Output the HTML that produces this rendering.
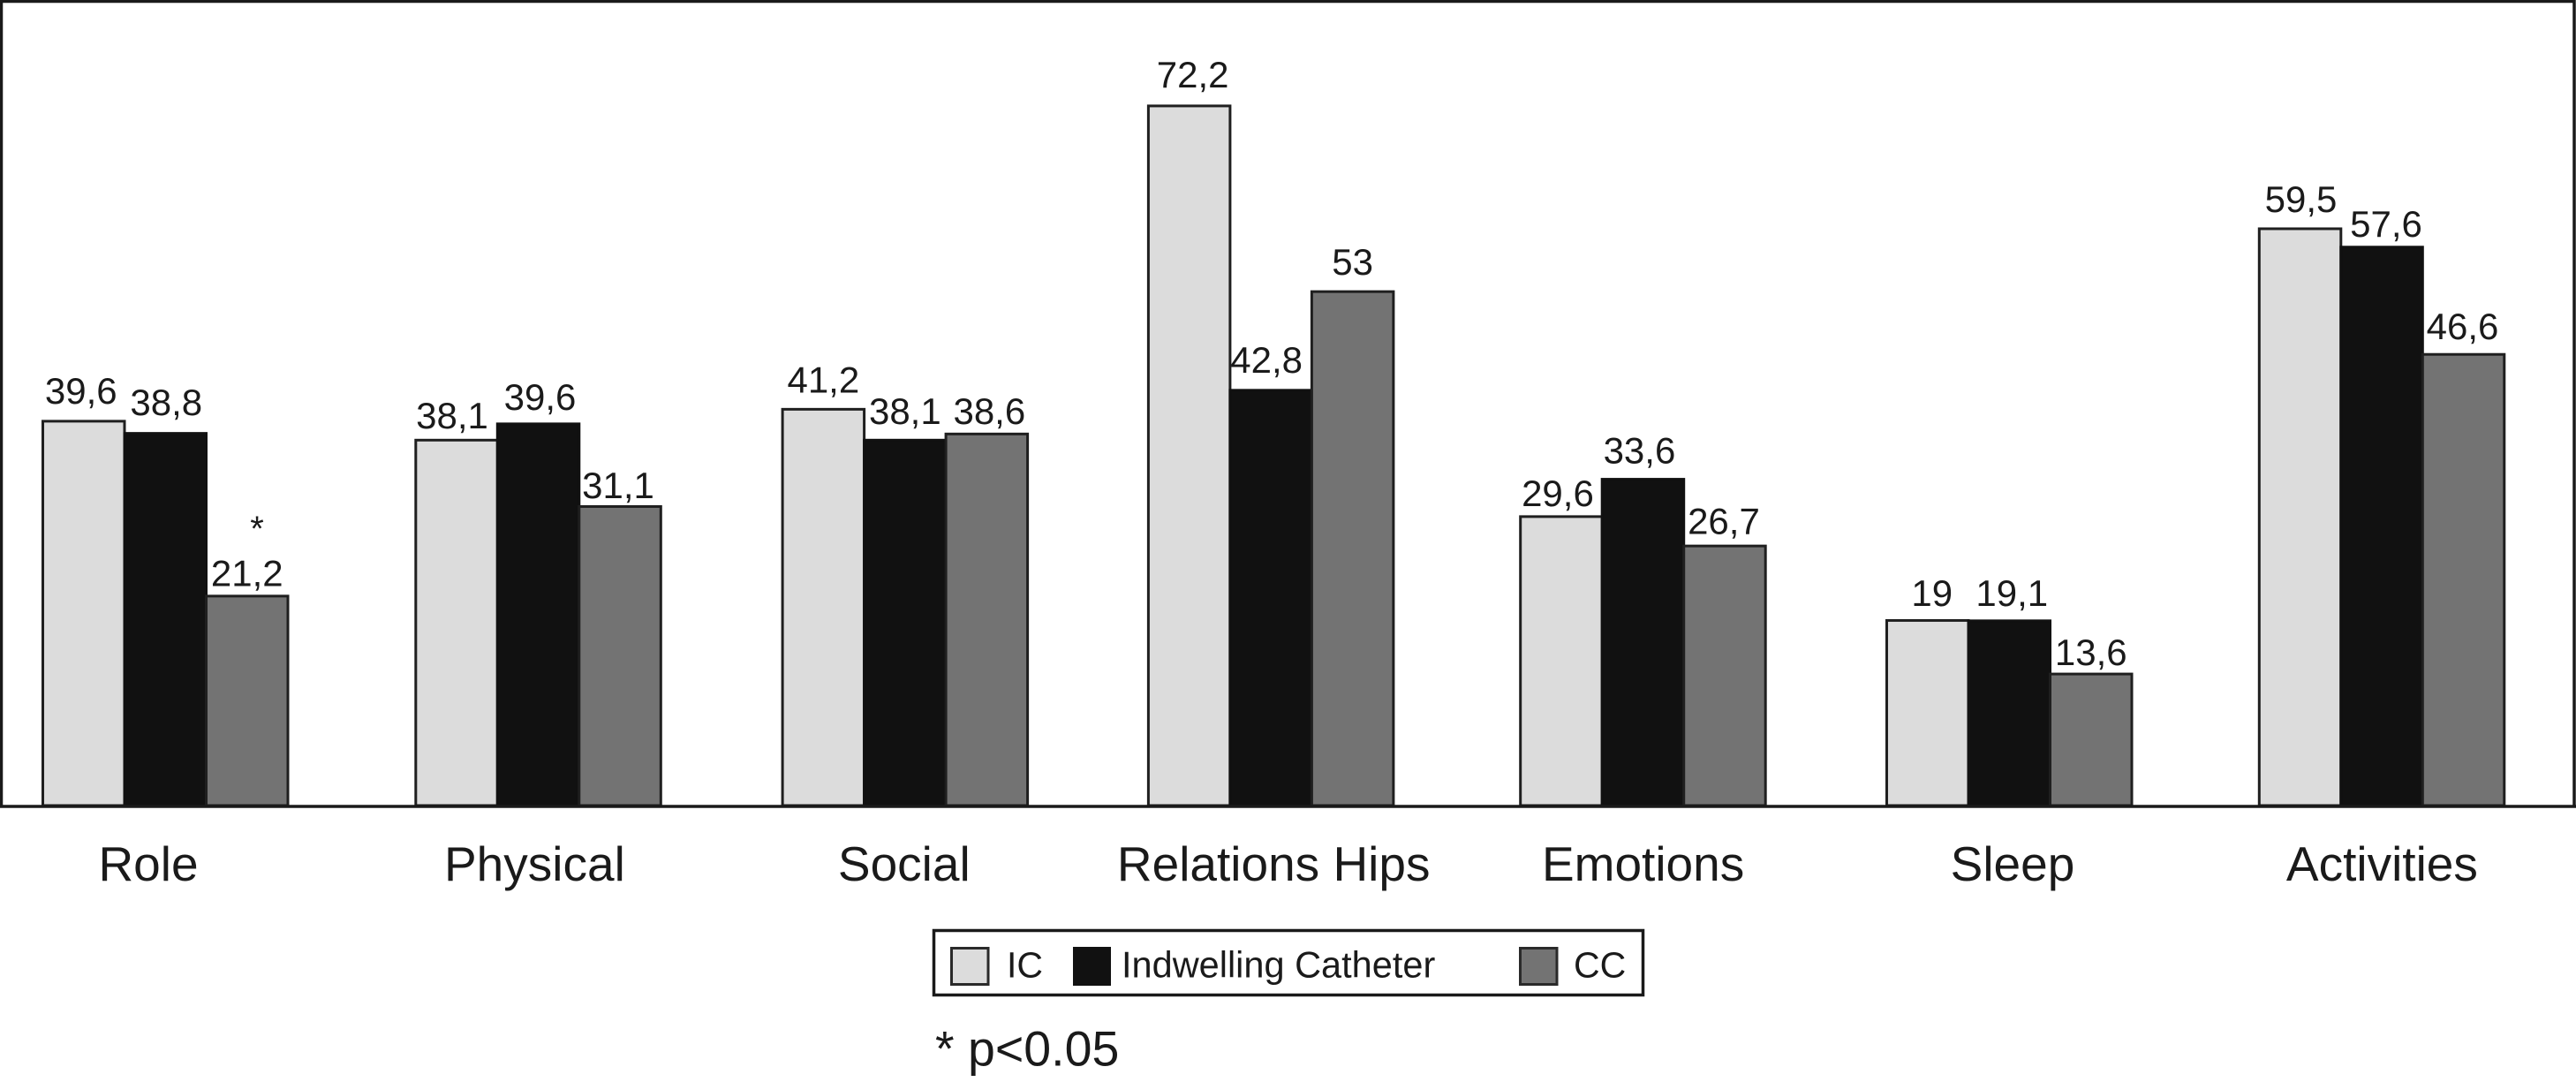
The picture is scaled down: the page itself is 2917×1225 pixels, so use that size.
<!DOCTYPE html>
<html lang="en">
<head>
<meta charset="utf-8">
<title>Grouped bar chart</title>
<style>
html,body{margin:0;padding:0;background:#fff;width:2917px;height:1225px;overflow:hidden}
svg{display:block}
text{font-family:"Liberation Sans",Arial,sans-serif;fill:#1a1a1a}
</style>
</head>
<body>
<svg id="chart" xmlns="http://www.w3.org/2000/svg" width="2917" height="1225" viewBox="0 0 2917 1225">
  <rect x="0" y="0" width="2917" height="1225" fill="#fff"/>
  <g id="bars"></g>
  <g id="labels"></g>
  <g id="cats"></g>
  <path d="M1.5 913 V1.5 H2915 V913" fill="none" stroke="#1a1a1a" stroke-width="3.5"/>
  <line x1="0" y1="913" x2="2917" y2="913" stroke="#1a1a1a" stroke-width="3.5"/>
  <text x="291" y="612" font-size="40" text-anchor="middle">*</text>
  <g>
    <rect x="1057.5" y="1053.5" width="803" height="73" fill="#fff" stroke="#1a1a1a" stroke-width="3.5"/>
    <rect x="1077.5" y="1073.5" width="41.5" height="41" fill="#dcdcdc" stroke="#2a2a2a" stroke-width="3"/>
    <text x="1140" y="1106.5" font-size="41">IC</text>
    <rect x="1215" y="1072" width="43" height="44" fill="#111"/>
    <text x="1270" y="1106.5" font-size="41.5">Indwelling Catheter</text>
    <rect x="1721.5" y="1073.5" width="41.5" height="41" fill="#737373" stroke="#2a2a2a" stroke-width="3"/>
    <text x="1782" y="1106.5" font-size="41">CC</text>
  </g>
  <text x="1059" y="1206.5" font-size="55.5">* p&lt;0.05</text>
</svg>
<script>
const categories = ["Role", "Physical", "Social", "Relations Hips", "Emotions", "Sleep", "Activities"];
const seriesIC = [39.6, 38.1, 41.2, 72.2, 29.6, 19, 59.5];
const seriesIndwelling = [38.8, 39.6, 38.1, 42.8, 33.6, 19.1, 57.6];
const seriesCC = [21.2, 31.1, 38.6, 53, 26.7, 13.6, 46.6];

const SVGNS = "http://www.w3.org/2000/svg";
const fills = ["#dcdcdc", "#111111", "#737373"];
const strokes = ["#1f1f1f", "#111111", "#1f1f1f"];
const seriesKeys = ["ic", "indwelling-catheter", "cc"];
const allSeries = [seriesIC, seriesIndwelling, seriesCC];

// hand-tuned layout offsets of the original artwork
const groupNudge = [0, 4, 1, -3, 0, -3.5, 0];
const categoryNudge = [-19, 0, 0, 0, 0, 0, 0];
const barTopNudge = [
  [0, 5, 4, 0, -1.5, 0, 0],
  [5, 3, 5, 0, 0, 1.5, 0],
  [-3.5, 3.5, 3.5, 0, 0, 1.5, 1]
];
const labelDx = [
  [-3, -5, 0, 4, -4, 5, 1],
  [1, 2, 0, -5, -4, 3, 5],
  [0, -2, 3, 0, -1, 0, -1]
];
const labelGap = [
  [20, 8.3, 14.9, 20.9, 13.4, 16.5, 19],
  [15.6, 13, 13.3, 19.8, 18.1, 15.4, 11.8],
  [14.9, 6, 7.8, 19.2, 13.6, 8.6, 16.2]
];

const baseY = 912;
const barW = 92.5;
function yScale(v) { return 910.5 - 10.95 * v; }
function groupCenter(i) { return 187 + 418.4 * i + categoryNudge[i]; }
function barX(i, k) { return 47 + 418.3 * i + groupNudge[i] + 1.5 + barW * k; }
function fmt(v) { return String(v).replace(".", ","); }

const barsG = document.getElementById("bars");
const labelsG = document.getElementById("labels");
const catsG = document.getElementById("cats");

categories.forEach(function (cat, i) {
  allSeries.forEach(function (series, k) {
    const v = series[i];
    const top = yScale(v) + barTopNudge[k][i];
    const r = document.createElementNS(SVGNS, "rect");
    r.setAttribute("x", barX(i, k));
    r.setAttribute("y", top);
    r.setAttribute("width", barW);
    r.setAttribute("height", baseY - top);
    r.setAttribute("fill", fills[k]);
    r.setAttribute("stroke", strokes[k]);
    r.setAttribute("stroke-width", 3);
    
    
    barsG.appendChild(r);

    const t = document.createElementNS(SVGNS, "text");
    t.setAttribute("x", barX(i, k) + barW / 2 + labelDx[k][i]);
    t.setAttribute("y", yScale(v) - labelGap[k][i]);
    t.setAttribute("font-size", 42);
    t.setAttribute("text-anchor", "middle");
    
    
    t.textContent = fmt(v);
    labelsG.appendChild(t);
  });

  const c = document.createElementNS(SVGNS, "text");
  c.setAttribute("x", groupCenter(i));
  c.setAttribute("y", 997);
  c.setAttribute("font-size", 55);
  c.setAttribute("text-anchor", "middle");
  
  
  c.textContent = cat;
  catsG.appendChild(c);
});
</script>
</body>
</html>
